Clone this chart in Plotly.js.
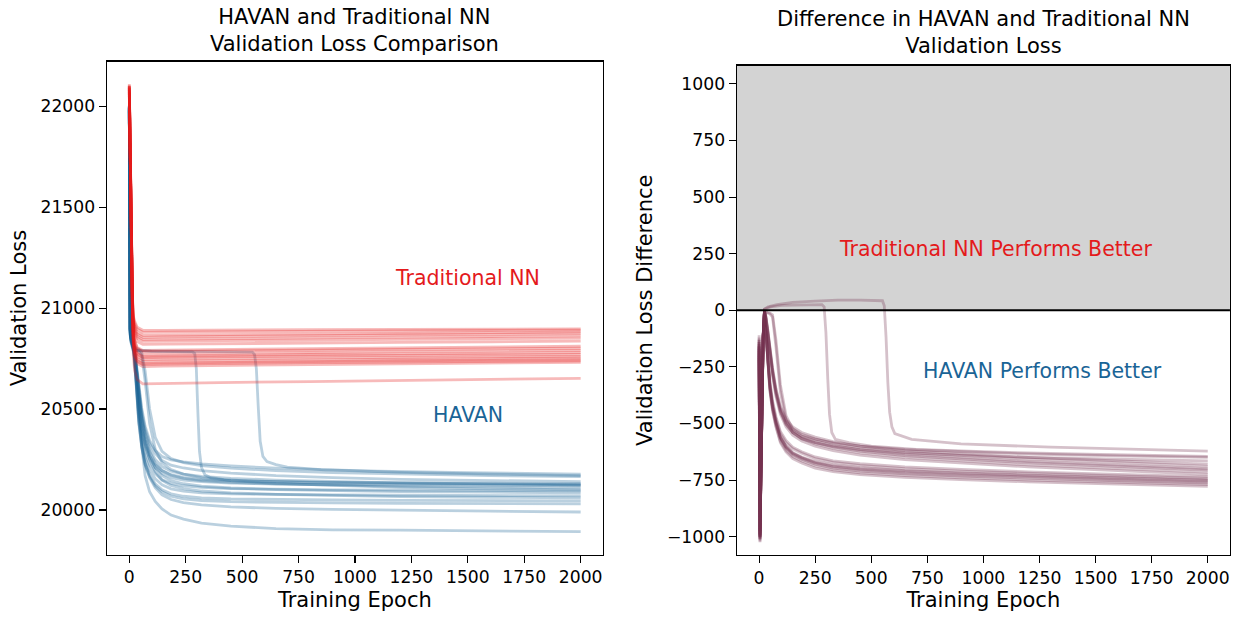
<!DOCTYPE html>
<html><head><meta charset="utf-8">
<script src="https://cdn.plot.ly/plotly-3.0.1.min.js"></script>
<style>html,body{margin:0;padding:0;background:#fff}#chart{width:1241px;height:617px}</style>
</head><body><div id="chart"></div>
<script>
// ---------- data ----------
const epochTicks = [0, 250, 500, 750, 1000, 1250, 1500, 1750, 2000];
const lossTicks = [20000, 20500, 21000, 21500, 22000];
const diffTicks = [-1000, -750, -500, -250, 0, 250, 500, 750, 1000];
const diffTickLabels = ['\u22121000', '\u2212750', '\u2212500', '\u2212250', '0', '250', '500', '750', '1000'];

// Traditional NN validation loss (one row per run)
const tradEpochs = [0, 3, 6, 10, 14, 18, 24, 35, 60, 150, 400, 800, 1200, 1600, 2000];
const tradLoss = [
  [22110, 21860, 21560, 21250, 21060, 20960, 20935, 20905, 20890, 20890, 20892, 20893, 20894, 20895, 20897],
  [22100, 21850, 21550, 21240, 21050, 20950, 20925, 20895, 20880, 20881, 20883, 20885, 20887, 20889, 20891],
  [22090, 21840, 21540, 21230, 21040, 20940, 20910, 20880, 20865, 20866, 20869, 20872, 20875, 20878, 20882],
  [22105, 21850, 21545, 21235, 21040, 20935, 20900, 20870, 20855, 20857, 20860, 20864, 20867, 20870, 20873],
  [22080, 21830, 21530, 21220, 21030, 20925, 20890, 20860, 20845, 20846, 20849, 20853, 20856, 20859, 20862],
  [22095, 21845, 21540, 21225, 21025, 20915, 20880, 20850, 20835, 20836, 20839, 20842, 20845, 20848, 20851],
  [22070, 21820, 21520, 21210, 21015, 20905, 20865, 20835, 20820, 20821, 20824, 20827, 20830, 20833, 20836],
  [22100, 21845, 21535, 21215, 21005, 20885, 20840, 20805, 20790, 20792, 20795, 20799, 20803, 20807, 20811],
  [22060, 21810, 21510, 21200, 21000, 20880, 20835, 20800, 20785, 20786, 20789, 20792, 20795, 20798, 20801],
  [22085, 21835, 21525, 21205, 20995, 20870, 20820, 20785, 20770, 20772, 20776, 20780, 20784, 20787, 20790],
  [22075, 21825, 21520, 21200, 20990, 20860, 20810, 20775, 20760, 20762, 20766, 20770, 20773, 20777, 20780],
  [22100, 21850, 21540, 21210, 20990, 20855, 20805, 20770, 20755, 20757, 20760, 20763, 20766, 20768, 20771],
  [22065, 21815, 21510, 21190, 20980, 20845, 20795, 20760, 20745, 20747, 20750, 20753, 20756, 20758, 20761],
  [22090, 21840, 21530, 21200, 20975, 20835, 20785, 20750, 20735, 20737, 20740, 20744, 20747, 20750, 20753],
  [22080, 21830, 21520, 21190, 20965, 20825, 20775, 20740, 20725, 20727, 20731, 20735, 20739, 20742, 20745],
  [22070, 21820, 21510, 21180, 20960, 20820, 20770, 20735, 20720, 20722, 20726, 20730, 20733, 20736, 20739],
  [22095, 21845, 21530, 21195, 20960, 20815, 20760, 20725, 20710, 20712, 20716, 20720, 20724, 20727, 20731],
  [22050, 21800, 21490, 21150, 20920, 20760, 20690, 20645, 20625, 20627, 20631, 20636, 20642, 20647, 20652]
];

// HAVAN validation loss (one row per run)
const havanEpochs = [0, 1, 2, 4, 8, 14, 20, 26, 33, 42, 55, 70, 90, 115, 145, 185, 240, 320, 450, 650, 900, 1200, 1600, 2000];
const havanLoss = [
  [21990, 21620, 21260, 20890, 20860, 20835, 20810, 20740, 20630, 20510, 20405, 20330, 20270, 20225, 20195, 20175, 20162, 20152, 20145, 20140, 20137, 20135, 20132, 20130],
  [22000, 21610, 21250, 20880, 20850, 20825, 20800, 20725, 20615, 20495, 20390, 20315, 20255, 20210, 20180, 20160, 20148, 20140, 20133, 20128, 20126, 20124, 20122, 20120],
  [21980, 21600, 21240, 20870, 20840, 20815, 20790, 20715, 20600, 20475, 20365, 20285, 20225, 20180, 20150, 20132, 20120, 20112, 20106, 20102, 20100, 20098, 20097, 20095],
  [21995, 21615, 21255, 20885, 20845, 20820, 20795, 20710, 20590, 20460, 20345, 20260, 20200, 20155, 20125, 20105, 20093, 20085, 20080, 20077, 20075, 20073, 20072, 20070],
  [21985, 21605, 21245, 20875, 20835, 20810, 20785, 20700, 20575, 20440, 20320, 20235, 20175, 20130, 20100, 20080, 20068, 20060, 20055, 20052, 20050, 20048, 20047, 20045],
  [21975, 21595, 21235, 20865, 20830, 20805, 20780, 20690, 20565, 20430, 20310, 20225, 20165, 20120, 20090, 20068, 20055, 20047, 20041, 20037, 20035, 20033, 20032, 20030],
  [21990, 21610, 21250, 20880, 20840, 20815, 20790, 20705, 20580, 20440, 20315, 20225, 20160, 20110, 20075, 20052, 20037, 20025, 20015, 20008, 20003, 19998, 19994, 19990],
  [22000, 21630, 21270, 20900, 20865, 20840, 20815, 20775, 20710, 20615, 20505, 20415, 20345, 20295, 20265, 20248, 20238, 20228, 20218, 20207, 20196, 20186, 20178, 20170],
  [21990, 21620, 21260, 20890, 20855, 20830, 20805, 20765, 20695, 20600, 20490, 20400, 20330, 20280, 20245, 20222, 20208, 20195, 20183, 20170, 20160, 20152, 20146, 20140],
  [22005, 21625, 21265, 20895, 20860, 20832, 20808, 20760, 20685, 20585, 20470, 20380, 20305, 20250, 20215, 20192, 20178, 20167, 20157, 20148, 20140, 20134, 20129, 20125],
  [21985, 21615, 21255, 20885, 20850, 20825, 20800, 20755, 20680, 20575, 20460, 20365, 20290, 20232, 20195, 20172, 20157, 20146, 20137, 20129, 20122, 20117, 20113, 20110],
  [21995, 21620, 21260, 20890, 20855, 20828, 20802, 20758, 20680, 20570, 20450, 20350, 20270, 20210, 20170, 20145, 20130, 20118, 20109, 20101, 20095, 20091, 20088, 20085],
  [21980, 21605, 21245, 20875, 20840, 20815, 20790, 20748, 20668, 20555, 20430, 20330, 20250, 20190, 20148, 20122, 20106, 20094, 20085, 20077, 20071, 20066, 20063, 20060],
  [22000, 21630, 21270, 20900, 20860, 20835, 20812, 20805, 20800, 20795, 20780, 20690, 20500, 20360, 20290, 20255, 20235, 20220, 20207, 20195, 20185, 20177, 20170, 20165],
  [21995, 21625, 21265, 20895, 20855, 20830, 20805, 20798, 20792, 20785, 20765, 20640, 20430, 20300, 20235, 20200, 20178, 20160, 20145, 20132, 20122, 20112, 20105, 20100],
  [21990, 21610, 21250, 20870, 20830, 20805, 20775, 20740, 20680, 20560, 20320, 20170, 20090, 20042, 20005, 19975, 19955, 19935, 19920, 19908, 19902, 19900, 19897, 19893]
];
// HAVAN runs that stayed on a plateau before dropping
const havanPlateauEpochs = [
  [0, 1, 2, 4, 8, 14, 20, 30, 50, 100, 200, 280, 290, 297, 304, 311, 320, 335, 360, 420, 550, 800, 1200, 1600, 2000],
  [0, 1, 2, 4, 8, 14, 20, 30, 50, 100, 200, 300, 400, 500, 545, 555, 563, 571, 580, 592, 610, 650, 700, 850, 1100, 1500, 2000]
];
const havanPlateauLoss = [
  [22000, 21630, 21270, 20900, 20850, 20815, 20795, 20790, 20788, 20786, 20784, 20783, 20775, 20700, 20480, 20290, 20210, 20175, 20160, 20150, 20143, 20137, 20132, 20128, 20125],
  [21995, 21625, 21265, 20895, 20850, 20815, 20795, 20790, 20789, 20788, 20787, 20786, 20785, 20784, 20782, 20770, 20700, 20520, 20340, 20265, 20240, 20225, 20212, 20200, 20192, 20185, 20178]
];

// Validation loss difference (HAVAN - Traditional NN), one row per run
const diffEpochs = [0, 2, 4, 7, 12, 18, 24, 30, 38, 48, 60, 75, 95, 120, 150, 190, 250, 330, 450, 650, 900, 1200, 1600, 2000];
const lossDiff = [
  [-120, -680, -990, -790, -440, -110, -3, -70, -200, -310, -400, -470, -535, -575, -605, -625, -648, -665, -678, -692, -703, -714, -725, -735],
  [-180, -720, -1010, -810, -455, -125, -6, -75, -210, -320, -410, -480, -545, -585, -612, -632, -655, -672, -685, -700, -711, -721, -732, -742],
  [-140, -690, -1000, -800, -448, -118, -4, -85, -225, -335, -425, -495, -560, -600, -628, -648, -668, -683, -695, -708, -718, -728, -738, -748],
  [-200, -730, -1025, -820, -460, -130, -8, -90, -230, -340, -430, -500, -565, -605, -633, -652, -672, -688, -700, -712, -722, -732, -742, -752],
  [-160, -700, -1005, -805, -450, -122, -5, -80, -220, -330, -420, -490, -560, -602, -632, -652, -675, -692, -705, -718, -728, -738, -748, -758],
  [-130, -685, -995, -795, -445, -115, -4, -88, -228, -338, -428, -498, -566, -608, -638, -658, -680, -697, -710, -723, -733, -743, -753, -763],
  [-220, -740, -1020, -815, -458, -128, -7, -95, -240, -350, -440, -510, -578, -618, -646, -666, -688, -705, -718, -730, -740, -750, -760, -770],
  [-170, -710, -1015, -808, -452, -124, -6, -100, -245, -355, -445, -515, -585, -626, -655, -675, -697, -713, -726, -738, -748, -758, -768, -778],
  [-150, -700, -980, -790, -440, -115, -3, -25, -80, -165, -255, -345, -425, -480, -515, -540, -560, -580, -600, -620, -635, -650, -665, -680],
  [-190, -720, -1000, -805, -452, -124, -5, -28, -85, -172, -262, -352, -432, -488, -523, -548, -568, -588, -608, -628, -643, -658, -673, -690],
  [-110, -670, -975, -785, -438, -112, -3, -32, -92, -182, -272, -362, -442, -497, -532, -557, -577, -597, -617, -637, -652, -668, -684, -700],
  [-210, -730, -1010, -812, -456, -126, -6, -35, -98, -190, -280, -370, -450, -505, -540, -565, -585, -603, -622, -642, -657, -673, -689, -705],
  [-160, -700, -990, -798, -447, -119, -4, -30, -88, -178, -268, -360, -445, -503, -540, -567, -590, -610, -630, -650, -666, -683, -699, -715],
  [-140, -690, -1000, -802, -450, -121, -5, -38, -105, -198, -290, -380, -460, -515, -552, -578, -600, -620, -640, -660, -676, -692, -708, -725],
  [-170, -710, -985, -795, -442, -117, -4, -8, -10, -12, -20, -130, -330, -465, -525, -555, -570, -585, -600, -615, -625, -635, -643, -650],
  [-130, -690, -995, -800, -448, -121, -5, -9, -12, -16, -30, -160, -360, -485, -540, -568, -585, -600, -615, -630, -640, -650, -658, -665]
];
const diffPlateauEpochs = [
  [0, 2, 4, 7, 12, 18, 24, 50, 100, 200, 280, 290, 298, 306, 314, 324, 340, 400, 500, 700, 1000, 1400, 2000],
  [0, 2, 4, 7, 12, 18, 24, 40, 80, 150, 250, 350, 450, 550, 558, 566, 574, 582, 592, 605, 680, 900, 1300, 1700, 2000]
];
const diffPlateau = [
  [-150, -700, -1000, -800, -450, -120, 5, 15, 22, 25, 25, 15, -100, -300, -460, -540, -570, -585, -600, -615, -625, -635, -645],
  [-160, -710, -1005, -805, -452, -122, 5, 15, 25, 35, 40, 45, 45, 42, 20, -120, -320, -450, -515, -545, -570, -590, -605, -615, -622]
];

// ---------- styling ----------
const FONT = 'DejaVu Sans, Liberation Sans, sans-serif';
const HAVAN_COL = 'rgba(26,100,150,0.3)';
const TRAD_COL = 'rgba(228,26,28,0.3)';
const DIFF_COL = 'rgba(115,50,78,0.3)';
const LW = 2.8;

const traces = [];
function addLine(x, y, col, xa, ya) {
  traces.push({type: 'scatter', mode: 'lines', x: x, y: y, xaxis: xa, yaxis: ya,
    line: {color: col, width: LW}, hoverinfo: 'skip', showlegend: false});
}
havanLoss.forEach(r => addLine(havanEpochs, r, HAVAN_COL, 'x', 'y'));
havanPlateauLoss.forEach((r, i) => addLine(havanPlateauEpochs[i], r, HAVAN_COL, 'x', 'y'));
tradLoss.forEach(r => addLine(tradEpochs, r, TRAD_COL, 'x', 'y'));
lossDiff.forEach(r => addLine(diffEpochs, r, DIFF_COL, 'x2', 'y2'));
diffPlateau.forEach((r, i) => addLine(diffPlateauEpochs[i], r, DIFF_COL, 'x2', 'y2'));

const axBase = {
  showgrid: false, zeroline: false, showline: true, mirror: true,
  linecolor: '#000', linewidth: 1.1, ticks: 'outside', ticklen: 7, tickwidth: 1.1,
  tickcolor: '#000', tickfont: {family: FONT, size: 17.2, color: '#000'}, automargin: false
};

const layout = {
  width: 1241, height: 617,
  margin: {l: 0, r: 0, t: 0, b: 0},
  paper_bgcolor: '#fff', plot_bgcolor: '#fff',
  font: {family: FONT, color: '#000'},
  showlegend: false,
  xaxis: Object.assign({}, axBase, {domain: [0.0860, 0.4859], range: [-100, 2099], anchor: 'y',
    tickmode: 'array', tickvals: epochTicks,
    title: {text: 'Training Epoch', font: {family: FONT, size: 21, color: '#000'}, standoff: 5}}),
  yaxis: Object.assign({}, axBase, {domain: [0.1011, 0.9003], range: [19779, 22221], anchor: 'x',
    tickmode: 'array', tickvals: lossTicks, tickformat: 'd',
    title: {text: 'Validation Loss', font: {family: FONT, size: 21, color: '#000'}, standoff: 8}}),
  xaxis2: Object.assign({}, axBase, {domain: [0.5936, 0.9911], range: [-100, 2099], anchor: 'y2',
    tickmode: 'array', tickvals: epochTicks,
    title: {text: 'Training Epoch', font: {family: FONT, size: 21, color: '#000'}, standoff: 5}}),
  yaxis2: Object.assign({}, axBase, {domain: [0.1005, 0.8938], range: [-1081, 1081], anchor: 'x2',
    tickmode: 'array', tickvals: diffTicks, ticktext: diffTickLabels,
    title: {text: 'Validation Loss Difference', font: {family: FONT, size: 21, color: '#000'}, standoff: 8}}),
  shapes: [
    {type: 'rect', xref: 'x2 domain', yref: 'y2', x0: 0, x1: 1, y0: 0, y1: 1081,
      fillcolor: '#d3d3d3', line: {width: 0}, layer: 'below'},
    {type: 'line', xref: 'x2 domain', yref: 'y2', x0: 0, x1: 1, y0: 0, y1: 0,
      line: {color: '#000', width: 2.2}, layer: 'above'}
  ],
  annotations: [
    {text: 'HAVAN and Traditional NN<br>Validation Loss Comparison', xref: 'paper', yref: 'paper',
      x: 0.2860, y: 0.951, xanchor: 'center', yanchor: 'middle', showarrow: false,
      font: {family: FONT, size: 21, color: '#000'}},
    {text: 'Difference in HAVAN and Traditional NN<br>Validation Loss', xref: 'paper', yref: 'paper',
      x: 0.7924, y: 0.947, xanchor: 'center', yanchor: 'middle', showarrow: false,
      font: {family: FONT, size: 21, color: '#000'}},
    {text: 'Traditional NN', xref: 'x', yref: 'y', x: 1500, y: 21150, showarrow: false,
      xanchor: 'center', yanchor: 'middle', font: {family: FONT, size: 20.5, color: '#e41a1c'}},
    {text: 'HAVAN', xref: 'x', yref: 'y', x: 1500, y: 20470, showarrow: false,
      xanchor: 'center', yanchor: 'middle', font: {family: FONT, size: 20.5, color: '#1a6496'}},
    {text: 'Traditional NN Performs Better', xref: 'x2', yref: 'y2', x: 1053, y: 270, showarrow: false,
      xanchor: 'center', yanchor: 'middle', font: {family: FONT, size: 20.5, color: '#e41a1c'}},
    {text: 'HAVAN Performs Better', xref: 'x2', yref: 'y2', x: 1262, y: -270, showarrow: false,
      xanchor: 'center', yanchor: 'middle', font: {family: FONT, size: 20.5, color: '#1a6496'}}
  ]
};

Plotly.newPlot('chart', traces, layout, {staticPlot: true, displayModeBar: false});
</script>
</body></html>
